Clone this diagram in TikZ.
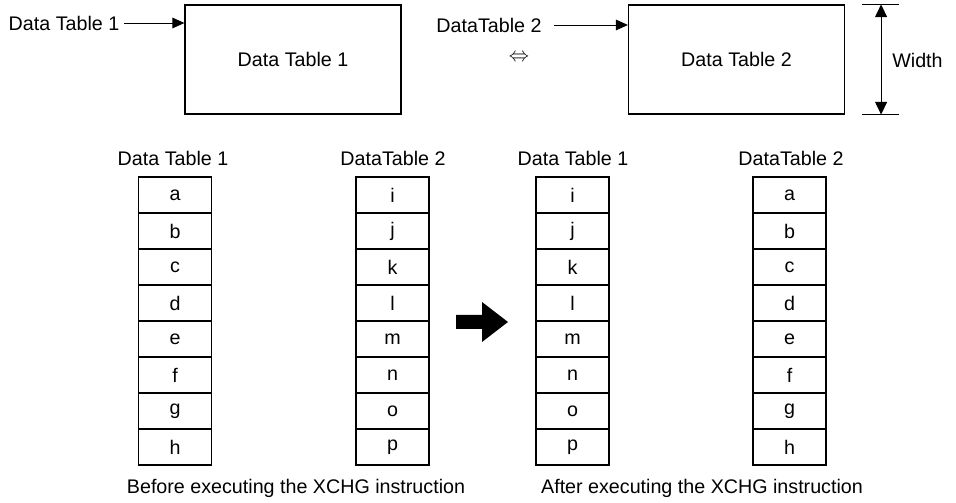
\documentclass[tikz,border=0pt]{standalone}
\usepackage{fontspec}
\setmainfont{Liberation Sans}
\usetikzlibrary{arrows.meta, positioning}

\begin{document}
\begin{tikzpicture}[x=0.025cm, y=-0.025cm,
  font=\fontsize{14}{16.8}\selectfont,
  table/.style={rectangle, draw, line width=0.8pt, minimum width=5.4cm,
                minimum height=2.725cm},
  cell/.style={rectangle, draw, line width=0.8pt, minimum width=1.825cm,
               minimum height=0.9cm, inner sep=0pt},
  txt/.style={inner sep=0pt},
  pointer/.style={-{Triangle[length=8.5pt, width=7.5pt]}, line width=0.7pt},
  dimarrow/.style={{Triangle[length=9pt, width=8.5pt]}-{Triangle[length=9pt, width=8.5pt]}, line width=0.7pt},
]
  \useasboundingbox (0,0) rectangle (956,503);

  % top row: the two tables and their width
  \node[table] (tbl1) at (293,59.5) {Data Table 1};
  \node[table] (tbl2) at (736.5,59.5) {Data Table 2};

  \node[txt] (lbl1) at (64,23) {Data Table 1};
  \node[txt] (lbl2) at (489,25) {DataTable 2};
  \node[txt] (swap) at (519,58) {$\Leftrightarrow$};

  \draw[pointer] ([xshift=3.5pt]lbl1.east) -- (lbl1.east -| tbl1.west);
  \draw[pointer] ([xshift=8.5pt]lbl2.east) -- (lbl2.east -| tbl2.west);

  \coordinate (wtop) at ([xshift=25.6pt]tbl2.north east);
  \coordinate (wbot) at ([xshift=25.6pt]tbl2.south east);
  \draw[line width=0.7pt] ([xshift=-13.5pt]wtop) -- ([xshift=12.8pt]wtop);
  \draw[line width=0.7pt] ([xshift=-13.5pt]wbot) -- ([xshift=12.8pt]wbot);
  \draw[dimarrow] (wtop) -- (wbot);
  \node[txt] (wd) at (917.5,60) {Width};

  % the four columns
  \foreach \cx/\letters [count=\c] in {175/{a,b,c,d,e,f,g,h},
      392.5/{i,j,k,l,m,n,o,p}, 572.5/{i,j,k,l,m,n,o,p},
      789.5/{a,b,c,d,e,f,g,h}} {
    \foreach \ch [count=\r] in \letters {
      \node[cell] (c\c-\r) at (\cx,159+36*\r) {\ch};
    }
  }

  \node[txt] (hd1) at (173,158) {Data Table 1};
  \node[txt] (hd2) at (393,158) {DataTable 2};
  \node[txt] (hd3) at (573,158) {Data Table 1};
  \node[txt] (hd4) at (791,158) {DataTable 2};

  % swap arrow
  \fill (456,315) -- (482,315) -- (482,302) -- (508,322) -- (482,342)
        -- (482,329) -- (456,329) -- cycle;

  \node[txt] (before) at (296,488) {Before executing the XCHG instruction};
  \node[txt] (after) at (702,488) {After executing the XCHG instruction};
\end{tikzpicture}
\end{document}
